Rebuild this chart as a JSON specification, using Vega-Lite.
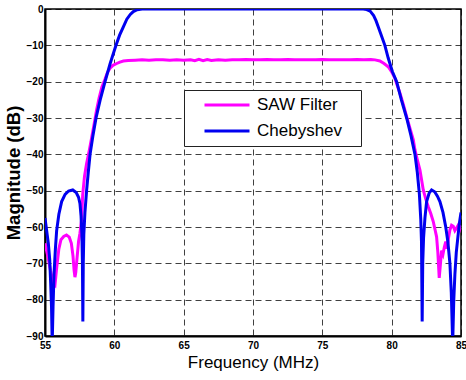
{
  "$schema": "https://vega.github.io/schema/vega-lite/v6.json",
  "width": 416,
  "height": 327,
  "autosize": {"type": "none"},
  "padding": {"left": 45, "top": 9, "right": 5, "bottom": 44},
  "background": "white",
  "config": {
    "view": {"stroke": "#000", "strokeWidth": 1.5},
    "font": "Liberation Sans"
  },
  "data": {
    "values": [
      {"f": 55.0, "db": -64.5, "s": "SAW Filter"},
      {"f": 55.2, "db": -68, "s": "SAW Filter"},
      {"f": 55.4, "db": -72, "s": "SAW Filter"},
      {"f": 55.6, "db": -75.5, "s": "SAW Filter"},
      {"f": 55.72, "db": -76, "s": "SAW Filter"},
      {"f": 55.85, "db": -71, "s": "SAW Filter"},
      {"f": 56.0, "db": -66, "s": "SAW Filter"},
      {"f": 56.15, "db": -63.5, "s": "SAW Filter"},
      {"f": 56.35, "db": -62.6, "s": "SAW Filter"},
      {"f": 56.55, "db": -62.2, "s": "SAW Filter"},
      {"f": 56.75, "db": -62.8, "s": "SAW Filter"},
      {"f": 56.9, "db": -64.5, "s": "SAW Filter"},
      {"f": 57.02, "db": -68, "s": "SAW Filter"},
      {"f": 57.1, "db": -72, "s": "SAW Filter"},
      {"f": 57.16, "db": -73.8, "s": "SAW Filter"},
      {"f": 57.22, "db": -72.5, "s": "SAW Filter"},
      {"f": 57.3, "db": -69, "s": "SAW Filter"},
      {"f": 57.42, "db": -64, "s": "SAW Filter"},
      {"f": 57.52, "db": -61.7, "s": "SAW Filter"},
      {"f": 57.64, "db": -58, "s": "SAW Filter"},
      {"f": 57.72, "db": -51, "s": "SAW Filter"},
      {"f": 57.85, "db": -46, "s": "SAW Filter"},
      {"f": 58.0, "db": -42.5, "s": "SAW Filter"},
      {"f": 58.2, "db": -38.8, "s": "SAW Filter"},
      {"f": 58.36, "db": -35.5, "s": "SAW Filter"},
      {"f": 58.55, "db": -31.5, "s": "SAW Filter"},
      {"f": 58.72, "db": -27.8, "s": "SAW Filter"},
      {"f": 58.9, "db": -24.5, "s": "SAW Filter"},
      {"f": 59.1, "db": -21.5, "s": "SAW Filter"},
      {"f": 59.33, "db": -19.3, "s": "SAW Filter"},
      {"f": 59.5, "db": -17.5, "s": "SAW Filter"},
      {"f": 59.69, "db": -16.3, "s": "SAW Filter"},
      {"f": 59.9, "db": -15.5, "s": "SAW Filter"},
      {"f": 60.17, "db": -15, "s": "SAW Filter"},
      {"f": 60.4, "db": -14.6, "s": "SAW Filter"},
      {"f": 60.65, "db": -14.3, "s": "SAW Filter"},
      {"f": 61.0, "db": -14.2, "s": "SAW Filter"},
      {"f": 61.5, "db": -14.1, "s": "SAW Filter"},
      {"f": 62.0, "db": -14.0, "s": "SAW Filter"},
      {"f": 62.5, "db": -14.1, "s": "SAW Filter"},
      {"f": 63.0, "db": -14.0, "s": "SAW Filter"},
      {"f": 63.5, "db": -14.0, "s": "SAW Filter"},
      {"f": 64.0, "db": -14.1, "s": "SAW Filter"},
      {"f": 64.5, "db": -14.0, "s": "SAW Filter"},
      {"f": 65.0, "db": -14.1, "s": "SAW Filter"},
      {"f": 65.5, "db": -14.0, "s": "SAW Filter"},
      {"f": 65.8, "db": -14.25, "s": "SAW Filter"},
      {"f": 66.1, "db": -13.85, "s": "SAW Filter"},
      {"f": 66.4, "db": -14.25, "s": "SAW Filter"},
      {"f": 66.7, "db": -13.9, "s": "SAW Filter"},
      {"f": 67.0, "db": -14.15, "s": "SAW Filter"},
      {"f": 67.5, "db": -14.0, "s": "SAW Filter"},
      {"f": 68.0, "db": -14.1, "s": "SAW Filter"},
      {"f": 68.5, "db": -14.0, "s": "SAW Filter"},
      {"f": 69.0, "db": -14.0, "s": "SAW Filter"},
      {"f": 69.5, "db": -13.9, "s": "SAW Filter"},
      {"f": 70.0, "db": -14.0, "s": "SAW Filter"},
      {"f": 70.5, "db": -14.0, "s": "SAW Filter"},
      {"f": 71.0, "db": -13.9, "s": "SAW Filter"},
      {"f": 71.5, "db": -14.0, "s": "SAW Filter"},
      {"f": 72.0, "db": -14.0, "s": "SAW Filter"},
      {"f": 72.5, "db": -13.9, "s": "SAW Filter"},
      {"f": 73.0, "db": -14.0, "s": "SAW Filter"},
      {"f": 73.5, "db": -14.0, "s": "SAW Filter"},
      {"f": 74.0, "db": -14.0, "s": "SAW Filter"},
      {"f": 74.5, "db": -14.0, "s": "SAW Filter"},
      {"f": 75.0, "db": -13.9, "s": "SAW Filter"},
      {"f": 75.5, "db": -14.0, "s": "SAW Filter"},
      {"f": 76.0, "db": -14.0, "s": "SAW Filter"},
      {"f": 76.5, "db": -14.0, "s": "SAW Filter"},
      {"f": 77.0, "db": -14.0, "s": "SAW Filter"},
      {"f": 77.5, "db": -13.9, "s": "SAW Filter"},
      {"f": 78.0, "db": -14.0, "s": "SAW Filter"},
      {"f": 78.5, "db": -13.9, "s": "SAW Filter"},
      {"f": 78.8, "db": -14.0, "s": "SAW Filter"},
      {"f": 79.15, "db": -14.3, "s": "SAW Filter"},
      {"f": 79.45, "db": -15, "s": "SAW Filter"},
      {"f": 79.75, "db": -15.9, "s": "SAW Filter"},
      {"f": 80.0, "db": -17.3, "s": "SAW Filter"},
      {"f": 80.23, "db": -19, "s": "SAW Filter"},
      {"f": 80.4, "db": -21, "s": "SAW Filter"},
      {"f": 80.6, "db": -23.2, "s": "SAW Filter"},
      {"f": 80.85, "db": -26.4, "s": "SAW Filter"},
      {"f": 81.08, "db": -29.6, "s": "SAW Filter"},
      {"f": 81.3, "db": -32.6, "s": "SAW Filter"},
      {"f": 81.56, "db": -36, "s": "SAW Filter"},
      {"f": 81.68, "db": -38.8, "s": "SAW Filter"},
      {"f": 81.85, "db": -41.5, "s": "SAW Filter"},
      {"f": 82.04, "db": -44.3, "s": "SAW Filter"},
      {"f": 82.28, "db": -49.8, "s": "SAW Filter"},
      {"f": 82.45, "db": -52.2, "s": "SAW Filter"},
      {"f": 82.64, "db": -54.4, "s": "SAW Filter"},
      {"f": 82.82, "db": -56.3, "s": "SAW Filter"},
      {"f": 83.0, "db": -58.5, "s": "SAW Filter"},
      {"f": 83.24, "db": -62.7, "s": "SAW Filter"},
      {"f": 83.33, "db": -67, "s": "SAW Filter"},
      {"f": 83.43, "db": -74, "s": "SAW Filter"},
      {"f": 83.52, "db": -70, "s": "SAW Filter"},
      {"f": 83.6, "db": -66.5, "s": "SAW Filter"},
      {"f": 83.7, "db": -67.5, "s": "SAW Filter"},
      {"f": 83.8, "db": -65.5, "s": "SAW Filter"},
      {"f": 83.9, "db": -64, "s": "SAW Filter"},
      {"f": 84.0, "db": -66, "s": "SAW Filter"},
      {"f": 84.1, "db": -63, "s": "SAW Filter"},
      {"f": 84.2, "db": -60.8, "s": "SAW Filter"},
      {"f": 84.32, "db": -59.5, "s": "SAW Filter"},
      {"f": 84.44, "db": -59.8, "s": "SAW Filter"},
      {"f": 84.56, "db": -61, "s": "SAW Filter"},
      {"f": 84.68, "db": -60.3, "s": "SAW Filter"},
      {"f": 84.8, "db": -59.5, "s": "SAW Filter"},
      {"f": 84.92, "db": -60.5, "s": "SAW Filter"},
      {"f": 85.0, "db": -59.5, "s": "SAW Filter"},
      {"f": 55.0, "db": -57.5, "s": "Chebyshev"},
      {"f": 55.12, "db": -61, "s": "Chebyshev"},
      {"f": 55.24, "db": -64.5, "s": "Chebyshev"},
      {"f": 55.34, "db": -69, "s": "Chebyshev"},
      {"f": 55.41, "db": -75.5, "s": "Chebyshev"},
      {"f": 55.47, "db": -82, "s": "Chebyshev"},
      {"f": 55.52, "db": -92, "s": "Chebyshev"},
      {"f": 55.58, "db": -82, "s": "Chebyshev"},
      {"f": 55.65, "db": -73, "s": "Chebyshev"},
      {"f": 55.75, "db": -66, "s": "Chebyshev"},
      {"f": 55.84, "db": -61, "s": "Chebyshev"},
      {"f": 56.0, "db": -56.5, "s": "Chebyshev"},
      {"f": 56.2, "db": -53, "s": "Chebyshev"},
      {"f": 56.45, "db": -51, "s": "Chebyshev"},
      {"f": 56.7, "db": -50.1, "s": "Chebyshev"},
      {"f": 57.0, "db": -49.8, "s": "Chebyshev"},
      {"f": 57.25, "db": -50.5, "s": "Chebyshev"},
      {"f": 57.42, "db": -51.8, "s": "Chebyshev"},
      {"f": 57.52, "db": -53.5, "s": "Chebyshev"},
      {"f": 57.6, "db": -57, "s": "Chebyshev"},
      {"f": 57.66, "db": -62, "s": "Chebyshev"},
      {"f": 57.7, "db": -70, "s": "Chebyshev"},
      {"f": 57.73, "db": -86, "s": "Chebyshev"},
      {"f": 57.76, "db": -70, "s": "Chebyshev"},
      {"f": 57.8, "db": -62, "s": "Chebyshev"},
      {"f": 57.88, "db": -56, "s": "Chebyshev"},
      {"f": 58.0, "db": -50, "s": "Chebyshev"},
      {"f": 58.12, "db": -45, "s": "Chebyshev"},
      {"f": 58.25, "db": -40, "s": "Chebyshev"},
      {"f": 58.45, "db": -35, "s": "Chebyshev"},
      {"f": 58.68, "db": -30, "s": "Chebyshev"},
      {"f": 58.98, "db": -25, "s": "Chebyshev"},
      {"f": 59.33, "db": -20, "s": "Chebyshev"},
      {"f": 59.7, "db": -15, "s": "Chebyshev"},
      {"f": 60.12, "db": -10, "s": "Chebyshev"},
      {"f": 60.38, "db": -7.2, "s": "Chebyshev"},
      {"f": 60.65, "db": -4.9, "s": "Chebyshev"},
      {"f": 60.9, "db": -2.8, "s": "Chebyshev"},
      {"f": 61.15, "db": -1.5, "s": "Chebyshev"},
      {"f": 61.37, "db": -0.7, "s": "Chebyshev"},
      {"f": 61.65, "db": -0.2, "s": "Chebyshev"},
      {"f": 62.0, "db": 0, "s": "Chebyshev"},
      {"f": 70.0, "db": 0, "s": "Chebyshev"},
      {"f": 77.95, "db": 0, "s": "Chebyshev"},
      {"f": 78.2, "db": -0.15, "s": "Chebyshev"},
      {"f": 78.45, "db": -0.6, "s": "Chebyshev"},
      {"f": 78.7, "db": -1.8, "s": "Chebyshev"},
      {"f": 78.87, "db": -3.2, "s": "Chebyshev"},
      {"f": 79.03, "db": -4.9, "s": "Chebyshev"},
      {"f": 79.25, "db": -7.2, "s": "Chebyshev"},
      {"f": 79.51, "db": -10, "s": "Chebyshev"},
      {"f": 79.75, "db": -13.5, "s": "Chebyshev"},
      {"f": 80.05, "db": -17.2, "s": "Chebyshev"},
      {"f": 80.36, "db": -20, "s": "Chebyshev"},
      {"f": 80.7, "db": -25, "s": "Chebyshev"},
      {"f": 81.08, "db": -30, "s": "Chebyshev"},
      {"f": 81.4, "db": -35, "s": "Chebyshev"},
      {"f": 81.68, "db": -40, "s": "Chebyshev"},
      {"f": 81.85, "db": -45, "s": "Chebyshev"},
      {"f": 82.0, "db": -51, "s": "Chebyshev"},
      {"f": 82.1, "db": -58, "s": "Chebyshev"},
      {"f": 82.15, "db": -64, "s": "Chebyshev"},
      {"f": 82.2, "db": -86, "s": "Chebyshev"},
      {"f": 82.24, "db": -70, "s": "Chebyshev"},
      {"f": 82.3, "db": -63, "s": "Chebyshev"},
      {"f": 82.4, "db": -57.5, "s": "Chebyshev"},
      {"f": 82.52, "db": -53, "s": "Chebyshev"},
      {"f": 82.7, "db": -50.7, "s": "Chebyshev"},
      {"f": 82.88, "db": -49.8, "s": "Chebyshev"},
      {"f": 83.1, "db": -50.3, "s": "Chebyshev"},
      {"f": 83.3, "db": -51.5, "s": "Chebyshev"},
      {"f": 83.48, "db": -53, "s": "Chebyshev"},
      {"f": 83.7, "db": -56, "s": "Chebyshev"},
      {"f": 83.9, "db": -60, "s": "Chebyshev"},
      {"f": 84.05, "db": -64, "s": "Chebyshev"},
      {"f": 84.2, "db": -70, "s": "Chebyshev"},
      {"f": 84.3, "db": -78, "s": "Chebyshev"},
      {"f": 84.4, "db": -92, "s": "Chebyshev"},
      {"f": 84.48, "db": -80, "s": "Chebyshev"},
      {"f": 84.56, "db": -73, "s": "Chebyshev"},
      {"f": 84.66, "db": -67, "s": "Chebyshev"},
      {"f": 84.77, "db": -63, "s": "Chebyshev"},
      {"f": 84.88, "db": -59, "s": "Chebyshev"},
      {"f": 85.0, "db": -56, "s": "Chebyshev"}
    ]
  },
  "mark": {"type": "line", "strokeWidth": 3, "clip": true, "interpolate": "linear"},
  "encoding": {
    "x": {
      "field": "f", "type": "quantitative",
      "scale": {"domain": [55, 85], "nice": false, "zero": false},
      "axis": {
        "title": "Frequency (MHz)", "values": [55, 60, 65, 70, 75, 80, 85],
        "grid": true, "gridDash": [6, 4], "gridColor": "#000", "gridOpacity": 0.75, "gridWidth": 1,
        "ticks": false, "tickSize": 0, "domainColor": "#000", "domainWidth": 2,
        "labelFont": "Liberation Sans", "labelFontSize": 10, "labelFontWeight": "bold", "labelColor": "#000",
        "labelPadding": 4, "labelFlush": false,
        "titleFont": "Liberation Sans", "titleFontSize": 17, "titleFontWeight": "normal", "titleColor": "#000",
        "titlePadding": 4
      }
    },
    "y": {
      "field": "db", "type": "quantitative",
      "scale": {"domain": [-90, 0], "nice": false, "zero": false},
      "axis": {
        "title": "Magnitude (dB)", "values": [-90, -80, -70, -60, -50, -40, -30, -20, -10, 0],
        "grid": true, "gridDash": [6, 4], "gridColor": "#000", "gridOpacity": 0.75, "gridWidth": 1,
        "ticks": false, "tickSize": 0, "domainColor": "#000", "domainWidth": 2,
        "labelFont": "Liberation Sans", "labelFontSize": 10, "labelFontWeight": "bold", "labelColor": "#000",
        "labelPadding": 2, "labelFlush": false,
        "titleFont": "Liberation Sans", "titleFontSize": 18.5, "titleFontWeight": "bold", "titleColor": "#000",
        "titlePadding": 3
      }
    },
    "color": {
      "field": "s", "type": "nominal",
      "scale": {"domain": ["SAW Filter", "Chebyshev"], "range": ["#ff00ff", "#0000f0"]},
      "legend": {
        "title": null, "orient": "none", "legendX": 139, "legendY": 81,
        "symbolType": "stroke", "symbolSize": 2025, "symbolStrokeWidth": 3,
        "symbolOffset": 12.5, "labelOffset": 6, "clipHeight": 17,
        "labelFont": "Liberation Sans", "labelFontSize": 17, "labelColor": "#000",
        "labelExpr": "datum.label + '\u2800'",
        "padding": 6.5, "rowPadding": 8,
        "fillColor": "#fff", "strokeColor": "#222"
      }
    },
    "order": {"field": "f", "type": "quantitative"}
  }
}
